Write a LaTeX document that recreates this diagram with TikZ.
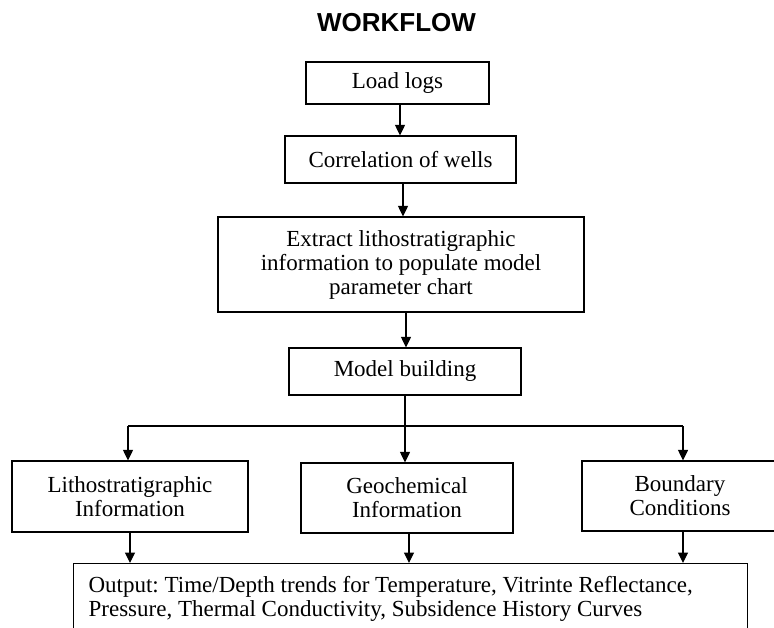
\documentclass[tikz,border=0pt]{standalone}
\usepackage{fontspec}
\setmainfont{Liberation Serif}
\newfontfamily\titlefont{Liberation Sans}
\usetikzlibrary{arrows.meta,calc}
\frenchspacing
\begin{document}
\begin{tikzpicture}[x=1pt,y=-1pt,
  box/.style={draw,line width=1.2pt,rectangle,inner sep=0pt,align=center,
    font=\fontsize{23}{24}\selectfont},
  conn/.style={line width=1.2pt},
  arr/.style={line width=1.2pt,-{Triangle[width=10pt,length=10.5pt]}}]
\useasboundingbox (0,0) rectangle (774,628);
\clip (0,0) rectangle (774,628);
\node[anchor=base,font=\titlefont\bfseries\fontsize{26}{28}\selectfont] (title) at (396.5,31.5) {WORKFLOW};
\node[box,minimum width=183pt,minimum height=42pt] (load) at (397.5,83) {Load logs};
\node[box,minimum width=231pt,minimum height=47pt] (corr) at (400.5,159.5) {Correlation of wells};
\node[box,minimum width=366pt,minimum height=95pt] (extract) at (401,264.5) {Extract lithostratigraphic\\information to populate model\\parameter chart};
\node[box,minimum width=232pt,minimum height=47pt] (model) at (405,371.5) {Model building};
\node[box,minimum width=236pt,minimum height=71pt] (litho) at (130,496.5) {Lithostratigraphic\\Information};
\node[box,minimum width=212pt,minimum height=70pt] (geo) at (407,498) {Geochemical\\Information};
\node[box,minimum width=196pt,minimum height=70pt] (bound) at (680,496) {Boundary\\Conditions};
\node[box,anchor=north west,align=flush left,text width=644pt,inner xsep=15pt,minimum height=70pt] (out) at (73,563) {Output: Time/Depth trends for Temperature, Vitrinte Reflectance,\\Pressure, Thermal Conductivity, Subsidence History Curves};
% connector coordinates
\coordinate (c1) at (400,0);
\coordinate (c2) at (403,0);
\coordinate (c3) at (406,0);
\coordinate (split) at (405,426);
\coordinate (sl) at (128,426);
\coordinate (sr) at (683,426);
\coordinate (d1) at (130,0);
\coordinate (d2) at (409,0);
\coordinate (d3) at (683,0);
\draw[arr] (c1 |- load.south) -- (c1 |- corr.north);
\draw[arr] (c2 |- corr.south) -- (c2 |- extract.north);
\draw[arr] (c3 |- extract.south) -- (c3 |- model.north);
\draw[conn] (model.south) -- (split);
\draw[conn] (sl) -- (sr);
\draw[arr] (sl) -- (sl |- litho.north);
\draw[arr] (split) -- (split |- geo.north);
\draw[arr] (sr) -- (sr |- bound.north);
\draw[arr] (d1 |- litho.south) -- (d1 |- out.north);
\draw[arr] (d2 |- geo.south) -- (d2 |- out.north);
\draw[arr] (d3 |- bound.south) -- (d3 |- out.north);
\end{tikzpicture}
\end{document}
